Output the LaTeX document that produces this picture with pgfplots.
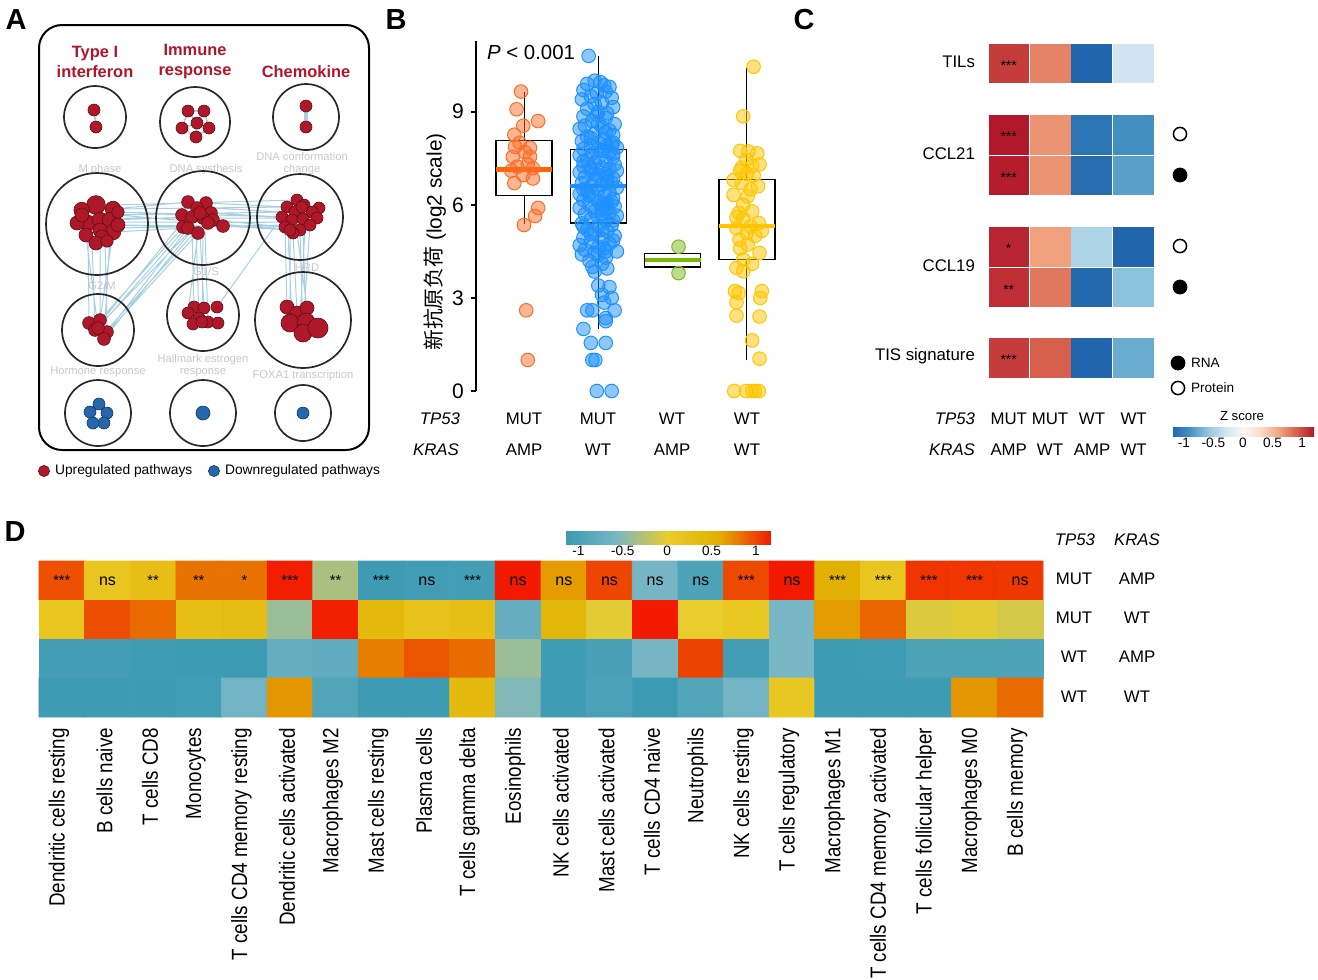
\documentclass[border=0pt]{standalone}
\usepackage{fontspec}
\setmainfont{Liberation Sans}
\newfontfamily\cjk{Noto Sans CJK SC}
\usepackage{graphicx}
\usepackage{pgfplots}
\pgfplotsset{compat=1.18}
\usepgfplotslibrary{statistics}
\pgfplotsset{/pgf/number format/assume math mode=true}
\pgfplotsset{
 colormap={zissou}{rgb255(0cm)=(59,154,178); rgb255(1cm)=(120,183,197); rgb255(2cm)=(235,204,42); rgb255(3cm)=(225,175,0); rgb255(4cm)=(242,26,0)},
 colormap={rdbu}{rgb255(0cm)=(33,102,172); rgb255(1cm)=(67,147,195); rgb255(2cm)=(146,197,222); rgb255(3cm)=(209,229,240); rgb255(4cm)=(247,247,247); rgb255(5cm)=(253,219,199); rgb255(6cm)=(244,165,130); rgb255(7cm)=(214,96,77); rgb255(8cm)=(178,24,43)},
}
\definecolor{bor}{RGB}{250,110,40}
\definecolor{mor}{RGB}{255,100,0}
\definecolor{bbl}{RGB}{30,144,255}
\definecolor{bgr}{RGB}{125,185,30}
\definecolor{mgr}{RGB}{118,185,0}
\definecolor{bye}{RGB}{255,198,0}
\definecolor{nred}{RGB}{174,24,40}
\definecolor{nblue}{RGB}{37,102,172}
\definecolor{edgec}{RGB}{168,208,228}
\definecolor{lgray}{RGB}{200,200,200}
\definecolor{tred}{RGB}{178,20,40}
\definecolor{ringc}{RGB}{40,40,40}
\newcommand{\fs}[1]{\fontsize{#1}{#1}\selectfont}
\newcommand{\nl}[1]{\scalebox{0.855}[1]{#1}}
\newcommand{\ring}[3]{\addplot[only marks, mark=o, mark size=#3pt, mark options={draw=ringc, line width=0.85pt}] coordinates {(#1,#2)};}
\pgfplotsset{pts/.style={only marks, mark=*, mark size=3.4pt, mark options={draw=#1, fill=#1, fill opacity=0.5, line width=0.5pt}}}
\pgfplotsset{rnode/.style={only marks, mark=*, mark size=#1pt, mark options={fill=nred, draw=nred!55!black, line width=0.3pt}}}
\pgfplotsset{bnode/.style={only marks, mark=*, mark size=#1pt, mark options={fill=nblue, draw=nblue!55!black, line width=0.3pt}}}
\pgfplotsset{ovl/.style={at={(0pt,0pt)}, anchor=north west, scale only axis, width=659pt, height=490pt,
  xmin=0, xmax=1318, ymin=0, ymax=980, y dir=reverse, hide axis, clip=false}}

\begin{document}
\begin{tikzpicture}
\path[use as bounding box] (0pt,0pt) rectangle (659pt,-490pt);

%================ overlay axis (panel A + texts) ================
\begin{axis}[ovl]
\draw[line width=1pt, rounded corners=11.5pt] (axis cs:39,25) rectangle (axis cs:369,450);
\ring{95}{117}{15.5}
\ring{195}{122}{17.5}
\ring{306}{117}{16.5}
\ring{97}{224}{25.5}
\ring{203}{218}{23.5}
\ring{300}{217}{21.5}
\ring{98}{330}{18}
\ring{203}{315}{18}
\ring{303}{320}{24}
\ring{98}{413}{16.5}
\ring{203}{413}{16.5}
\ring{303}{413}{14}
\addplot[edgec, line width=0.5pt, unbounded coords=jump] coordinates {
(113,209) (188,202) (nan,nan)
(118,212) (182,215) (nan,nan)
(118,225) (183,227) (nan,nan)
(113,232) (188,228) (nan,nan)
(110,220) (192,217) (nan,nan)
(113,209) (287,207) (nan,nan)
(118,212) (282,217) (nan,nan)
(118,225) (285,227) (nan,nan)
(118,215) (290,230) (nan,nan)
(113,205) (297,200) (nan,nan)
(118,222) (282,222) (nan,nan)
(116,228) (287,225) (nan,nan)
(110,215) (283,212) (nan,nan)
(118,218) (285,218) (nan,nan)
(211,213) (282,217) (nan,nan)
(213,220) (285,227) (nan,nan)
(206,203) (287,207) (nan,nan)
(223,226) (290,230) (nan,nan)
(208,223) (282,222) (nan,nan)
(211,208) (283,212) (nan,nan)
(88,235) (89,323) (nan,nan)
(92,240) (95,330) (nan,nan)
(100,238) (100,320) (nan,nan)
(105,240) (107,332) (nan,nan)
(110,235) (104,339) (nan,nan)
(86,236) (98,328) (nan,nan)
(113,232) (100,320) (nan,nan)
(183,227) (100,320) (nan,nan)
(188,228) (107,332) (nan,nan)
(192,230) (104,339) (nan,nan)
(185,229) (98,328) (nan,nan)
(195,232) (107,330) (nan,nan)
(198,233) (104,336) (nan,nan)
(190,231) (95,330) (nan,nan)
(180,225) (100,323) (nan,nan)
(192,230) (194,307) (nan,nan)
(196,232) (199,318) (nan,nan)
(200,233) (204,308) (nan,nan)
(203,233) (202,322) (nan,nan)
(198,233) (188,313) (nan,nan)
(205,232) (208,322) (nan,nan)
(275,226) (217,307) (nan,nan)
(285,227) (287,307) (nan,nan)
(290,230) (290,323) (nan,nan)
(293,233) (297,313) (nan,nan)
(300,230) (303,333) (nan,nan)
(303,232) (306,322) (nan,nan)
(297,233) (307,308) (nan,nan)
(288,232) (292,320) (nan,nan)
(305,229) (300,318) (nan,nan)
(310,225) (303,328)
};
\addplot[edgec, line width=0.8pt, unbounded coords=jump] coordinates {
(188,111) (204,111) (nan,nan) (188,111) (182,128) (nan,nan) (188,111) (197,123) (nan,nan)
(204,111) (197,123) (nan,nan) (204,111) (209,128) (nan,nan) (182,128) (197,123) (nan,nan)
(197,123) (209,128) (nan,nan) (182,128) (196,137) (nan,nan) (209,128) (196,137) (nan,nan)
(197,123) (196,137) (nan,nan) (94,110) (96,127)
};
\addplot[edgec, line width=1.6pt] coordinates {(306,106) (306,127)};
\addplot[rnode=3] coordinates {(94,110) (96,127) (188,111) (204,111) (182,128) (197,123) (209,128) (196,137) (306,106) (306,127)};
\addplot[rnode=4.7] coordinates {(96,205)};
\addplot[rnode=3.9] coordinates {(81.7,210) (113,209) (88,223) (100,220) (110,220) (113,232)};
\addplot[rnode=3.5] coordinates {(77,223) (118,225) (100,230) (86,235) (102,237) (96,243) (82,215)};
\addplot[rnode=3.1] coordinates {(107,241) (118,212)};
\addplot[rnode=3.2] coordinates {(188,202) (206,203) (197,208) (211,213) (182,215) (192,217) (203,218) (213,220) (183,227) (188,228) (198,233) (208,223) (223,226) (200,213)};
\addplot[rnode=3] coordinates {(297,200) (287,207) (304,205) (319,208) (312,212) (295,212) (282,217) (292,220) (303,219) (317,218) (285,227) (300,230) (310,225) (293,233) (290,230) (302,207)};
\addplot[rnode=3.2] coordinates {(89,323) (100,320) (95,330) (107,332) (104,339) (98,328)};
\addplot[rnode=3] coordinates {(194,307) (204,308) (217,307) (188,313) (199,318) (208,322) (218,323) (193,324) (202,322)};
\addplot[rnode=3.5] coordinates {(287,307) (297,313) (307,308)};
\addplot[rnode=4.5] coordinates {(290,323) (306,322) (303,333)};
\addplot[rnode=5] coordinates {(318,328)};
\addplot[bnode=3] coordinates {(99,404) (107,413) (104,423) (93,423) (90,412) (303,413)};
\addplot[bnode=3.5] coordinates {(203,413)};
\node[font=\bfseries\fontsize{8.2}{10}\selectfont, text=tred, align=center] at (axis cs:95,62) {Type I\\interferon};
\node[font=\bfseries\fontsize{8.2}{10}\selectfont, text=tred, align=center] at (axis cs:195,62) {Immune\\response};
\node[font=\bfseries\fontsize{8.2}{10}\selectfont, text=tred] at (axis cs:306,72) {Chemokine};
\begin{scope}[every node/.style={font=\fontsize{5.6}{6}\selectfont, text=lgray, align=center}]
\node at (axis cs:100,170) {M phase};
\node at (axis cs:206,170) {DNA systhesis};
\node at (axis cs:302,164) {DNA conformation\\change};
\node at (axis cs:102,285) {G2/M};
\node at (axis cs:206,271) {G1/S};
\node at (axis cs:307,268) {HRD};
\node at (axis cs:98,372) {Hormone response};
\node at (axis cs:203,366) {Hallmark estrogen\\response};
\node at (axis cs:303,376) {FOXA1 transcription};
\end{scope}
\addplot[rnode=2.8] coordinates {(44,471)};
\addplot[bnode=2.8] coordinates {(214,471)};
\node[anchor=west, font=\fs{6.9}] at (axis cs:48,471) {Upregulated pathways};
\node[anchor=west, font=\fs{6.9}] at (axis cs:218,471) {Downregulated pathways};
\node[font=\bfseries\fs{14.5}] at (axis cs:16,20) {A};
\node[font=\bfseries\fs{14.5}] at (axis cs:396,20) {B};
\node[font=\bfseries\fs{14.5}] at (axis cs:804,20) {C};
\node[font=\bfseries\fs{14.5}] at (axis cs:15,532) {D};
\node[anchor=west, font=\fs{10.2}] at (axis cs:480,52) {\textit{P} < 0.001};
\node[rotate=90, font=\fs{10.4}] at (axis cs:435,242) {{\cjk 新抗原负荷} (log2 scale)};
\begin{scope}[every node/.style={font=\fs{8.4}}]
\node[font=\itshape\fs{8.4}] at (axis cs:440,419) {TP53};
\node[font=\itshape\fs{8.4}] at (axis cs:436,450) {KRAS};
\node at (axis cs:524,419) {MUT}; \node at (axis cs:598,419) {MUT};
\node at (axis cs:672,419) {WT}; \node at (axis cs:747,419) {WT};
\node at (axis cs:524,450) {AMP}; \node at (axis cs:598,450) {WT};
\node at (axis cs:672,450) {AMP}; \node at (axis cs:747,450) {WT};
\node[anchor=east] at (axis cs:982,62) {TILs};
\node[anchor=east] at (axis cs:982,154) {CCL21};
\node[anchor=east] at (axis cs:982,266) {CCL19};
\node[anchor=east] at (axis cs:982,356) {TIS signature};
\node[anchor=east, font=\itshape\fs{8.4}] at (axis cs:982,419) {TP53};
\node[anchor=east, font=\itshape\fs{8.4}] at (axis cs:982,450) {KRAS};
\node at (axis cs:1008.7,419) {MUT}; \node at (axis cs:1050,419) {MUT};
\node at (axis cs:1092,419) {WT}; \node at (axis cs:1133.6,419) {WT};
\node at (axis cs:1008.7,450) {AMP}; \node at (axis cs:1050,450) {WT};
\node at (axis cs:1092,450) {AMP}; \node at (axis cs:1133.6,450) {WT};
\node[font=\itshape\fs{8.4}] at (axis cs:1075,540) {TP53};
\node[font=\itshape\fs{8.4}] at (axis cs:1137,540) {KRAS};
\node at (axis cs:1074,579) {MUT}; \node at (axis cs:1137,579) {AMP};
\node at (axis cs:1074,618) {MUT}; \node at (axis cs:1137,618) {WT};
\node at (axis cs:1074,657) {WT}; \node at (axis cs:1137,657) {AMP};
\node at (axis cs:1074,697) {WT}; \node at (axis cs:1137,697) {WT};
\end{scope}
\addplot[only marks, mark=o, mark size=3.3pt, mark options={draw=black, line width=0.75pt}] coordinates {(1180,134) (1180,246) (1178,388)};
\addplot[only marks, mark=*, mark size=3.5pt, mark options={draw=black, fill=black}] coordinates {(1180,175) (1180,287) (1178,363)};
\node[anchor=west, font=\fs{6.8}] at (axis cs:1184,363) {RNA};
\node[anchor=west, font=\fs{6.8}] at (axis cs:1184,388) {Protein};
\node[font=\fs{6.6}] at (axis cs:1242,416) {Z score};
\end{axis}

%================ panel B ================
\begin{axis}[at={(238pt,-195.5pt)}, anchor=south west, scale only axis, width=157pt, height=175.15pt,
  xmin=0.354, xmax=4.58, ymin=0, ymax=11.29, axis x line=none, axis y line=left,
  axis line style={-, line width=0.75pt}, ytick={0,3,6,9}, tick align=outside,
  major tick length=2.6pt, tick style={line width=0.75pt, black},
  yticklabel style={font=\fontsize{10.5}{12}\selectfont}, clip=false]
\addplot[pts=bor] table {
x y
0.96 9.65
0.90 9.08
1.19 8.7
0.99 8.55
0.87 8.26
0.88 7.87
1.08 7.84
0.85 7.55
1.08 7.55
0.91 7.23
1.12 7.18
0.99 6.96
1.12 6.85
0.87 6.7
1.19 5.9
1.15 5.64
1.00 5.35
1.03 2.6
1.05 1.0
1.01 7.7
1.05 7.3
0.94 8.0
0.83 7.1
};
\addplot[pts=bbl] table {
x y
1.87 10.8
1.95 10.0
2.03 9.95
1.85 9.9
2.08 9.85
1.80 9.7
2.10 9.65
1.90 9.5
2.18 9.45
1.78 9.4
2.05 9.3
1.95 9.25
2.20 9.15
1.85 9.1
2.00 9.0
2.12 8.95
1.80 8.85
2.10 8.8
1.92 8.7
2.22 8.6
1.82 8.55
2.05 8.5
1.75 8.45
2.15 8.4
1.95 8.3
2.20 8.25
1.85 8.2
2.08 8.1
1.78 8.05
2.00 8.0
2.18 7.95
1.90 7.9
2.25 7.85
1.80 7.8
2.05 7.75
2.15 7.7
1.92 7.65
1.75 7.6
2.20 7.55
2.00 7.5
1.85 7.45
2.10 7.4
1.95 7.35
2.22 7.3
1.80 7.25
2.05 7.2
2.15 7.15
1.90 7.1
1.75 7.05
2.10 7.0
2.00 6.95
1.82 6.9
2.20 6.85
1.95 6.8
2.12 6.75
1.78 6.7
2.05 6.65
1.90 6.6
2.25 6.55
2.00 6.5
1.85 6.45
2.15 6.4
1.75 6.35
2.08 6.3
1.95 6.25
2.20 6.2
1.80 6.15
2.00 6.1
2.12 6.05
1.88 6.0
2.22 5.95
1.75 5.9
2.05 5.85
1.95 5.8
2.15 5.75
1.82 5.7
2.25 5.65
2.00 5.6
1.90 5.55
2.10 5.5
1.78 5.4
2.18 5.35
2.00 5.3
1.85 5.2
2.12 5.15
1.95 5.1
2.22 5.0
1.80 4.95
2.05 4.9
1.90 4.8
2.15 4.75
1.75 4.7
2.08 4.6
1.82 4.55
2.25 4.5
1.95 4.45
1.78 4.4
2.10 4.3
1.88 4.2
2.05 4.1
1.92 4.0
2.12 3.95
1.95 3.85
2.00 3.4
2.15 3.35
2.05 3.1
2.18 3.0
2.08 2.85
1.85 2.6
1.92 2.6
2.22 2.6
2.10 2.35
2.10 2.25
1.80 2.0
1.90 1.55
2.10 1.55
1.92 1.0
1.96 1.0
1.98 0
2.18 0
1.98 8.9
2.10 8.35
1.90 8.15
2.12 7.9
2.20 7.65
1.80 7.4
1.90 7.2
1.95 7.0
2.12 6.9
2.18 6.7
1.80 6.5
1.88 6.3
2.18 6.1
2.10 5.9
2.05 5.7
2.20 5.5
1.80 5.3
1.90 5.05
2.20 4.85
2.00 4.65
1.98 9.6
2.15 9.8
2.00 8.65
2.20 8.0
2.25 7.1
2.05 6.0
2.05 5.2
2.10 4.5
2.00 4.4
2.00 7.8
};
\addplot[pts=bgr] table {
x y
3.08 4.65
3.08 3.8
};
\addplot[pts=bye] table {
x y
4.09 10.45
3.95 8.85
3.91 7.74
4.02 7.72
4.14 7.66
3.93 7.2
4.07 7.25
4.17 7.3
4.00 7.0
4.09 6.95
3.82 6.8
3.93 6.7
4.15 6.6
3.82 6.32
4.01 6.27
4.07 5.79
3.89 5.74
3.95 5.55
4.16 5.41
3.86 5.25
4.00 5.1
4.20 5.16
3.90 4.88
4.01 4.72
4.17 4.45
3.95 4.24
3.86 3.97
3.95 3.86
3.84 3.22
3.89 3.16
4.20 3.22
4.18 3.0
3.86 2.86
3.86 2.43
4.17 2.4
4.07 1.63
4.17 1.04
3.83 0
3.99 0
4.07 0
4.11 0
4.16 0
3.99 7.45
3.91 7.1
4.05 6.5
3.95 6.0
3.86 5.6
4.05 5.3
4.11 5.0
3.91 4.6
4.07 4.1
};
\addplot[black, line width=0.75pt, boxplot prepared={draw direction=y, draw position=1, lower whisker=5.37, lower quartile=6.3, median=7.14, upper quartile=8.07, upper whisker=9.65, box extend=0.754, whisker extend=0, every median/.style={draw=mor, line width=2.2pt}, every whisker/.style={line width=0.5pt}}] coordinates {};
\addplot[black, line width=0.75pt, boxplot prepared={draw direction=y, draw position=2, lower whisker=1.99, lower quartile=5.42, median=6.61, upper quartile=7.79, upper whisker=10.8, box extend=0.754, whisker extend=0, every median/.style={draw=bbl, line width=2.2pt}, every whisker/.style={line width=0.5pt}}] coordinates {};
\addplot[black, line width=0.75pt, boxplot prepared={draw direction=y, draw position=3, lower whisker=4.0, lower quartile=4.0, median=4.22, upper quartile=4.43, upper whisker=4.43, box extend=0.754, whisker extend=0, every median/.style={draw=mgr, line width=2.2pt}, every whisker/.style={line width=0.5pt}}] coordinates {};
\addplot[black, line width=0.75pt, boxplot prepared={draw direction=y, draw position=4, lower whisker=1.0, lower quartile=4.24, median=5.31, upper quartile=6.82, upper whisker=10.4, box extend=0.754, whisker extend=0, every median/.style={draw=bye, line width=2.2pt}, every whisker/.style={line width=0.5pt}}] coordinates {};
\end{axis}

%================ panel C ================
\begin{axis}[at={(494pt,-20pt)}, anchor=north west, scale only axis, width=82.8pt, height=170pt,
  xmin=0.5, xmax=4.5, ymin=40, ymax=380, y dir=reverse, hide axis, clip=false,
  colormap name=rdbu, point meta min=-1.2, point meta max=1.2]
\addplot[scatter, only marks, scatter src=explicit, mark=square*, mark size=9.95pt,
  mark options={yscale=0.97, line width=0.2pt},
  scatter/use mapped color={draw=mapped color, fill=mapped color}] table[meta=c] {
x y c
1 63 1.05
2 63 0.75
3 63 -1.2
4 63 -0.3
1 134.5 1.2
2 134.5 0.68
3 134.5 -1.1
4 134.5 -0.92
1 175 1.18
2 175 0.68
3 175 -1.15
4 175 -0.82
1 246.5 1.15
2 246.5 0.62
3 246.5 -0.47
4 246.5 -1.2
1 287 1.1
2 287 0.8
3 287 -1.18
4 287 -0.62
1 357.5 1.05
2 357.5 0.9
3 357.5 -1.2
4 357.5 -0.75
};
\end{axis}

%================ panel C colorbar ================
\begin{axis}[at={(586pt,-209.5pt)}, anchor=south west, scale only axis, width=1pt, height=1pt,
  xmin=0, xmax=1, ymin=0, ymax=1, hide axis,
  colormap name=rdbu, point meta min=-1.2, point meta max=1.2, colorbar horizontal,
  colorbar style={at={(parent axis.south west)}, anchor=south west, width=71pt, height=4.5pt,
    xtick={-1,-0.5,0,0.5,1}, axis line style={draw=none}, tick style={draw=none},
    xticklabel style={font=\fontsize{6.8}{8}\selectfont, inner sep=1pt},
    /pgf/number format/assume math mode=true}]
\addplot[draw=none] coordinates {(0.5,0.5)};
\end{axis}

%================ panel D ================
\begin{axis}[at={(19.5pt,-280.5pt)}, anchor=north west, scale only axis, width=502pt, height=78pt,
  xmin=-0.5, xmax=21.5, ymin=-0.5, ymax=3.5, y dir=reverse, enlargelimits=false,
  axis line style={draw=none}, tick style={draw=none}, ytick=\empty,
  xtick={0,...,21},
  xticklabels={\nl{Dendritic cells resting},\nl{B cells naive},\nl{T cells CD8},\nl{Monocytes},\nl{T cells CD4 memory resting},\nl{Dendritic cells activated},\nl{Macrophages M2},\nl{Mast cells resting},\nl{Plasma cells},\nl{T cells gamma delta},\nl{Eosinophils},\nl{NK cells activated},\nl{Mast cells activated},\nl{T cells CD4 naive},\nl{Neutrophils},\nl{NK cells resting},\nl{T cells regulatory},\nl{Macrophages M1},\nl{T cells CD4 memory activated},\nl{T cells follicular helper},\nl{Macrophages M0},\nl{B cells memory}},
  xticklabel style={rotate=90, anchor=east, font=\fontsize{11}{12}\selectfont, xshift=-2pt, yshift=1.5pt},
  colormap name=zissou, point meta min=-1.15, point meta max=1.17, clip=false]
\addplot[matrix plot*, mesh/cols=22, point meta=explicit] table[meta=c] {
x y c
0 0 0.96
1 0 0.15
2 0 0.3
3 0 0.83
4 0 0.83
5 0 1.15
6 0 -0.31
7 0 -1.12
8 0 -1.08
9 0 -1.07
10 0 1.17
11 0 0.67
12 0 1.0
13 0 -0.59
14 0 -0.97
15 0 0.99
16 0 1.17
17 0 0.57
18 0 0.15
19 0 1.07
20 0 1.07
21 0 1.06
0 1 0.15
1 1 0.97
2 1 0.86
3 1 0.3
4 1 0.33
5 1 -0.4
6 1 1.15
7 1 0.4
8 1 0.2
9 1 0.3
10 1 -0.74
11 1 0.45
12 1 -0.03
13 1 1.17
14 1 0.0
15 1 0.1
16 1 -0.57
17 1 0.66
18 1 0.88
19 1 -0.06
20 1 -0.03
21 1 -0.1
0 2 -1.07
1 2 -1.07
2 2 -1.1
3 2 -1.13
4 2 -1.14
5 2 -0.74
6 2 -0.8
7 2 0.78
8 2 0.94
9 2 0.85
10 2 -0.4
11 2 -1.1
12 2 -1.02
13 2 -0.6
14 2 1.01
15 2 -1.07
16 2 -0.57
17 2 -1.12
18 2 -1.1
19 2 -0.98
20 2 -0.99
21 2 -0.97
0 3 -1.12
1 3 -1.12
2 3 -1.13
3 3 -1.09
4 3 -0.63
5 3 0.69
6 3 -0.93
7 3 -1.12
8 3 -1.13
9 3 0.38
10 3 -0.52
11 3 -1.1
12 3 -1.0
13 3 -1.14
14 3 -0.93
15 3 -0.63
16 3 0.12
17 3 -1.13
18 3 -1.13
19 3 -1.13
20 3 0.69
21 3 0.86
};
\begin{scope}[every node/.style={anchor=base, font=\fs{7.3}}]
\node at (axis cs:0,0.12) {***};
\node[font=\fs{8}] at (axis cs:1,0.12) {ns};
\node at (axis cs:2,0.12) {**};
\node at (axis cs:3,0.12) {**};
\node at (axis cs:4,0.12) {*};
\node at (axis cs:5,0.12) {***};
\node at (axis cs:6,0.12) {**};
\node at (axis cs:7,0.12) {***};
\node[font=\fs{8}] at (axis cs:8,0.12) {ns};
\node at (axis cs:9,0.12) {***};
\node[font=\fs{8}] at (axis cs:10,0.12) {ns};
\node[font=\fs{8}] at (axis cs:11,0.12) {ns};
\node[font=\fs{8}] at (axis cs:12,0.12) {ns};
\node[font=\fs{8}] at (axis cs:13,0.12) {ns};
\node[font=\fs{8}] at (axis cs:14,0.12) {ns};
\node at (axis cs:15,0.12) {***};
\node[font=\fs{8}] at (axis cs:16,0.12) {ns};
\node at (axis cs:17,0.12) {***};
\node at (axis cs:18,0.12) {***};
\node at (axis cs:19,0.12) {***};
\node at (axis cs:20,0.12) {***};
\node[font=\fs{8}] at (axis cs:21,0.12) {ns};
\end{scope}
\end{axis}

%================ panel D colorbar ================
\begin{axis}[at={(282.5pt,-263.5pt)}, anchor=south west, scale only axis, width=1pt, height=1pt,
  xmin=0, xmax=1, ymin=0, ymax=1, hide axis,
  colormap name=zissou, point meta min=-1.15, point meta max=1.17, colorbar horizontal,
  colorbar style={at={(parent axis.south west)}, anchor=south west, width=103pt, height=6.5pt,
    xtick={-1,-0.5,0,0.5,1}, axis line style={draw=none}, tick style={draw=none},
    xticklabel style={font=\fontsize{6.8}{8}\selectfont, inner sep=1pt},
    /pgf/number format/assume math mode=true}]
\addplot[draw=none] coordinates {(0.5,0.5)};
\end{axis}

%================ final overlay: panel C significance marks ================
\begin{axis}[ovl]
\addplot[draw=none] coordinates {(0,0)};
\begin{scope}[every node/.style={font=\fs{7}, anchor=base}]
\node at (axis cs:1008.7,70) {***};
\node at (axis cs:1008.7,141.5) {***};
\node at (axis cs:1008.7,182) {***};
\node at (axis cs:1008.7,253.5) {*};
\node at (axis cs:1008.7,294) {**};
\node at (axis cs:1008.7,364.5) {***};
\end{scope}
\end{axis}
\end{tikzpicture}
\end{document}
